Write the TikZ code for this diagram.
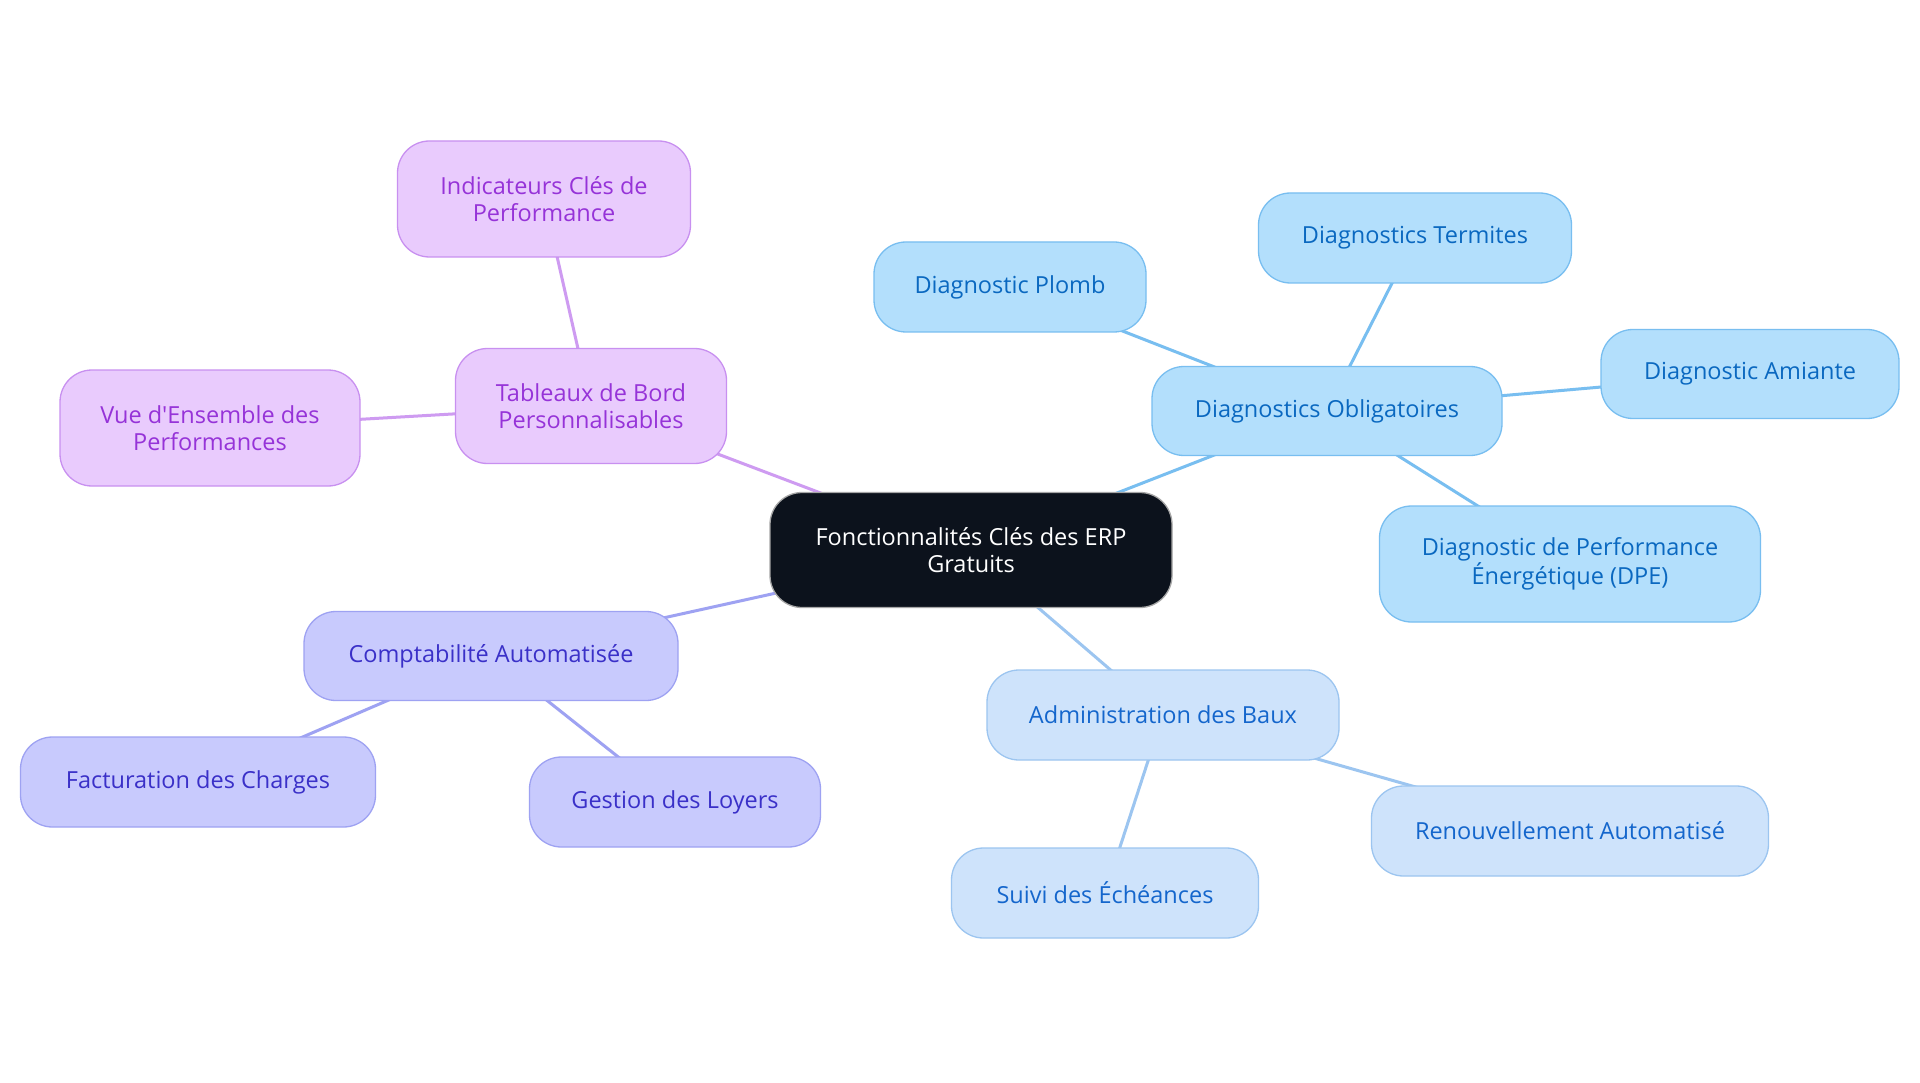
\documentclass[tikz,border=0pt]{standalone}
\usepackage{fontspec}
\setmainfont{Open Sans}[Ligatures=TeXOff]
\usetikzlibrary{backgrounds}
\definecolor{pfill}{HTML}{E9CBFD}
\definecolor{pdraw}{HTML}{C890F0}
\definecolor{ptext}{HTML}{9633D8}
\definecolor{bfill}{HTML}{B3DFFC}
\definecolor{bdraw}{HTML}{78BEF0}
\definecolor{btext}{HTML}{0A68C0}
\definecolor{lfill}{HTML}{CEE3FB}
\definecolor{ldraw}{HTML}{9CC5F0}
\definecolor{ltext}{HTML}{1466CC}
\definecolor{ifill}{HTML}{C8CAFD}
\definecolor{idraw}{HTML}{9EA2F2}
\definecolor{itext}{HTML}{3A30C8}
\definecolor{cfill}{HTML}{0C121C}
\tikzset{
  box/.style={rounded corners=32pt, line width=1.3pt, align=center, inner sep=0pt,
    font=\fontsize{23.5}{27}\selectfont},
  pbox/.style={box, fill=pfill, draw=pdraw, text=ptext},
  bbox/.style={box, fill=bfill, draw=bdraw, text=btext},
  lbox/.style={box, fill=lfill, draw=ldraw, text=ltext},
  ibox/.style={box, fill=ifill, draw=idraw, text=itext},
  cbox/.style={box, fill=cfill, draw=gray!70, text=white},
  link/.style={line width=3pt},
}
\begin{document}
\begin{tikzpicture}[x=1pt,y=-1pt]
\useasboundingbox (0,0) rectangle (1920,1083);
% nodes
\node[cbox, minimum width=402pt, minimum height=115pt] (c) at (971,550) {Fonctionnalités Clés des ERP\\Gratuits};
\node[pbox, minimum width=271pt, minimum height=115pt] (tb) at (591,406) {Tableaux de Bord\\Personnalisables};
\node[pbox, minimum width=293pt, minimum height=116pt] (ic) at (544,199) {Indicateurs Clés de\\Performance};
\node[pbox, minimum width=300pt, minimum height=116pt] (ve) at (210,428) {Vue d'Ensemble des\\Performances};
\node[ibox, minimum width=374pt, minimum height=89pt] (ca) at (491,656) {Comptabilité Automatisée};
\node[ibox, minimum width=355pt, minimum height=90pt] (fc) at (198,782) {Facturation des Charges};
\node[ibox, minimum width=291pt, minimum height=90pt] (gl) at (675,802) {Gestion des Loyers};
\node[lbox, minimum width=352pt, minimum height=90pt] (ab) at (1163,715) {Administration des Baux};
\node[lbox, minimum width=307pt, minimum height=90pt] (se) at (1105,893) {Suivi des Échéances};
\node[lbox, minimum width=397pt, minimum height=90pt] (ra) at (1570,831) {Renouvellement Automatisé};
\node[bbox, minimum width=350pt, minimum height=89pt] (do) at (1327,411) {Diagnostics Obligatoires};
\node[bbox, minimum width=272pt, minimum height=90pt] (dp) at (1010,287) {Diagnostic Plomb};
\node[bbox, minimum width=313pt, minimum height=90pt] (dt) at (1415,238) {Diagnostics Termites};
\node[bbox, minimum width=298pt, minimum height=89pt] (da) at (1750,374) {Diagnostic Amiante};
\node[bbox, minimum width=381pt, minimum height=116pt] (de) at (1570,564) {Diagnostic de Performance\\Énergétique (DPE)};
% links behind the nodes
\begin{scope}[on background layer]
\fill[white] (0,0) rectangle (1920,1083);
\draw[link, pdraw!90!white] (c.center) -- (tb.center);
\draw[link, pdraw!90!white] (tb.center) -- (ic.center);
\draw[link, pdraw!90!white] (tb.center) -- (ve.center);
\draw[link, idraw] (c.center) -- (ca.center);
\draw[link, idraw] (ca.center) -- (fc.center);
\draw[link, idraw] (ca.center) -- (gl.center);
\draw[link, ldraw] (c.center) -- (ab.center);
\draw[link, ldraw] (ab.center) -- (se.center);
\draw[link, ldraw] (ab.center) -- (ra.center);
\draw[link, bdraw] (c.center) -- (do.center);
\draw[link, bdraw] (do.center) -- (dp.center);
\draw[link, bdraw] (do.center) -- (dt.center);
\draw[link, bdraw] (do.center) -- (da.center);
\draw[link, bdraw] (do.center) -- (de.center);
\end{scope}
\end{tikzpicture}
\end{document}
